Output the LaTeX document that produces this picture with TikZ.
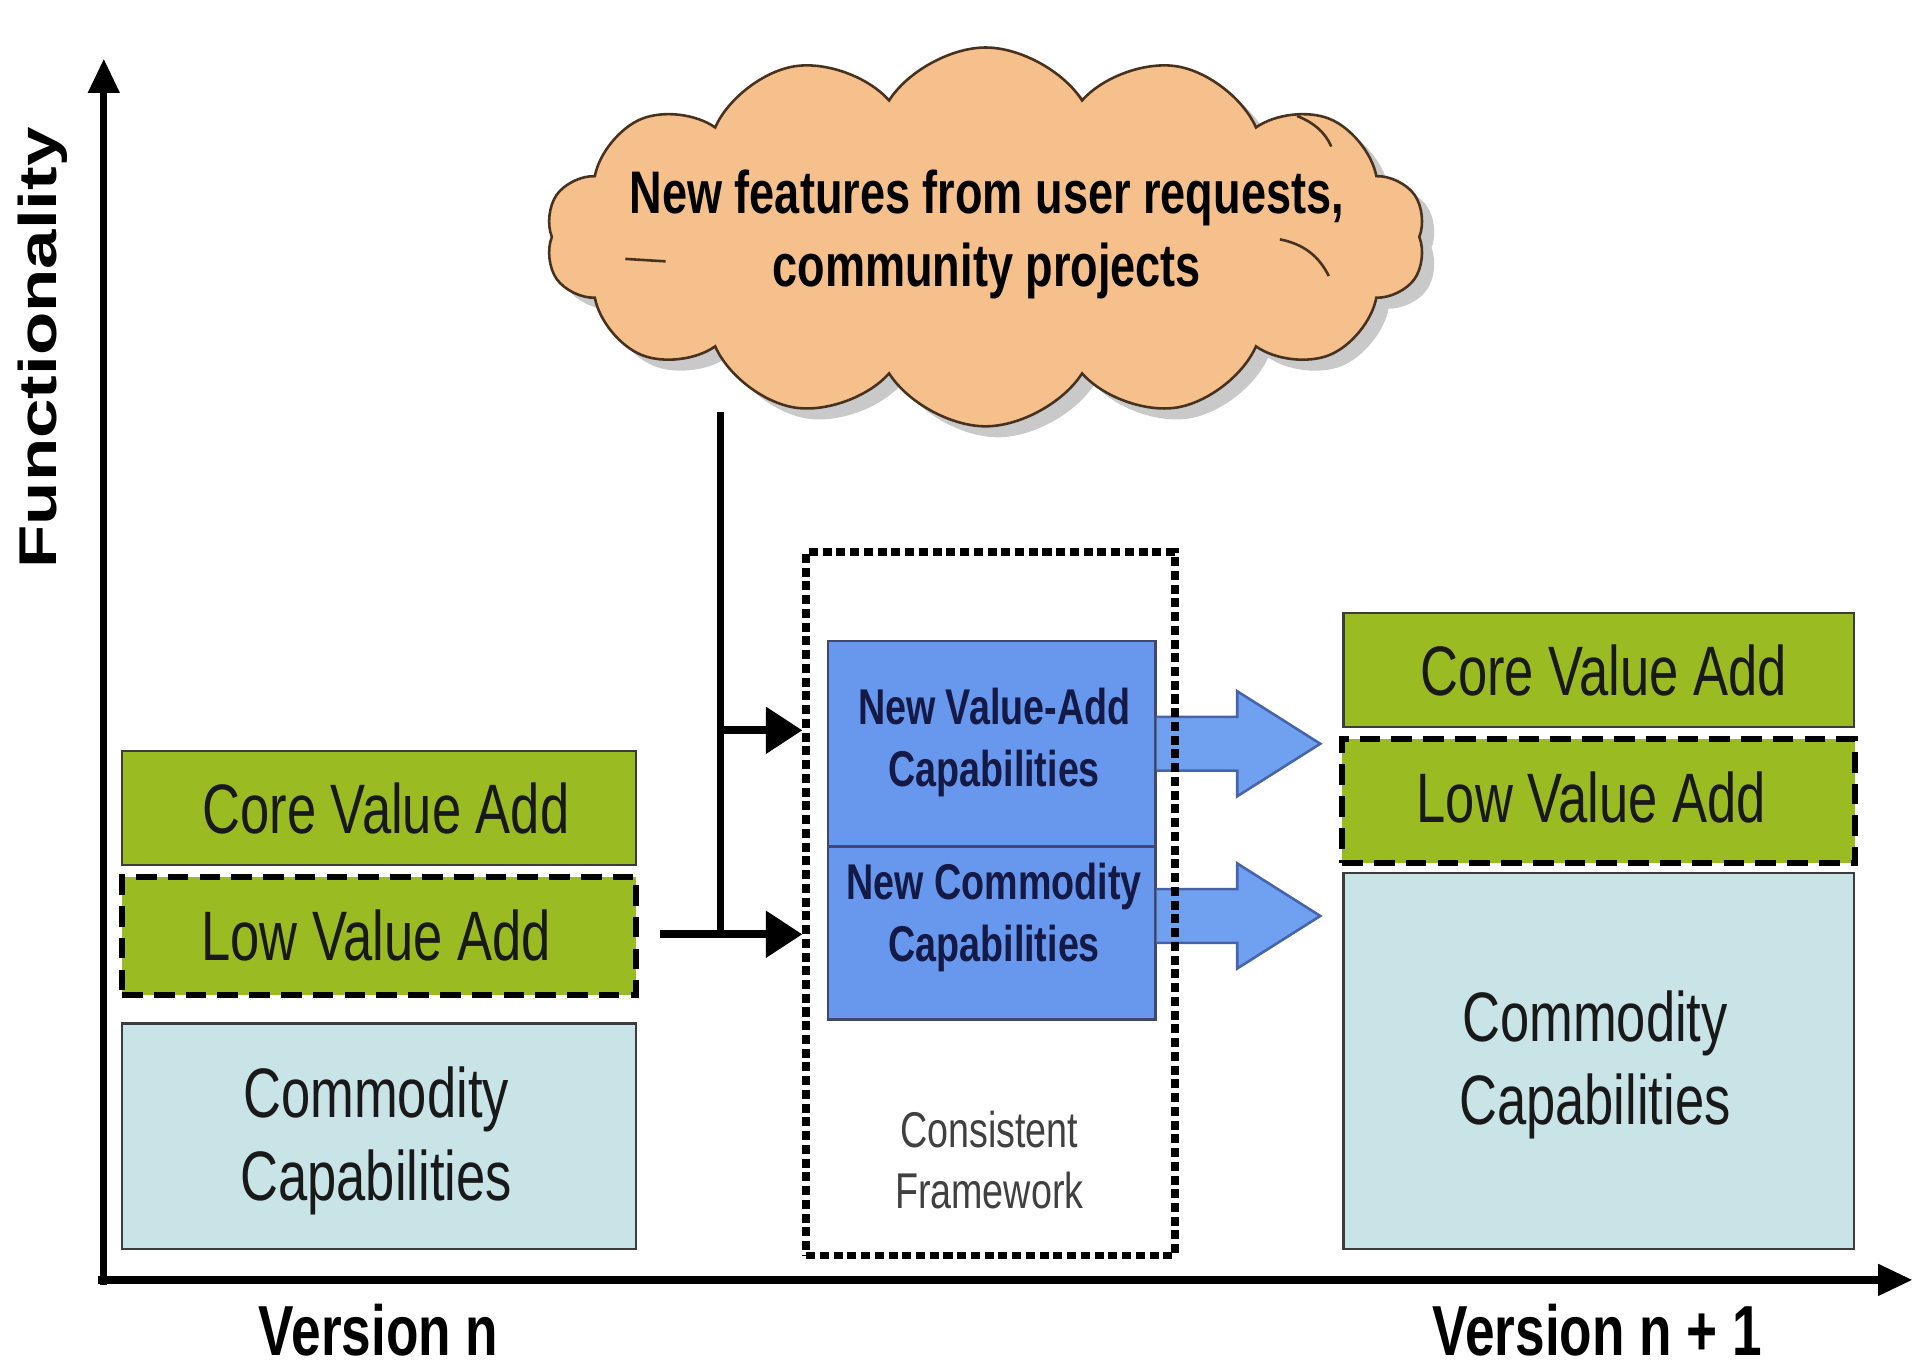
\documentclass[tikz,border=0pt]{standalone}
\usepackage{fontspec}
\setmainfont{Liberation Sans}[FakeStretch=0.75]
\newfontfamily\widefont{Liberation Sans}
\usepackage{graphicx}
\usetikzlibrary{shapes.symbols,shadows,fit,calc,arrows.meta}

\definecolor{valgreen}{RGB}{155,187,35}
\definecolor{commblue}{RGB}{200,228,230}
\definecolor{newblue}{RGB}{104,152,238}
\definecolor{arrowblue}{RGB}{112,160,240}
\definecolor{arrowedge}{RGB}{70,100,170}
\definecolor{cloudfill}{RGB}{245,192,140}
\definecolor{cloudedge}{RGB}{70,50,30}
\definecolor{textnavy}{RGB}{20,25,70}
\definecolor{boxedge}{RGB}{60,60,60}

\tikzset{
  layer/.style={inner sep=0pt, draw=boxedge, line width=0.5pt},
  layertext/.style={inner sep=0pt, font=\fontsize{16.3}{19.3}\selectfont,
    align=center, text=black!90},
  greenbox/.style={layer, fill=valgreen},
  lowbox/.style={layer, fill=valgreen, draw=black, line width=1.4pt,
    dash pattern=on 4.8pt off 2.6pt},
  commbox/.style={layer, fill=commblue},
  newbox/.style={inner sep=0pt, fill=newblue, draw=textnavy!80, line width=0.6pt},
  newtext/.style={font=\fontsize{11.7}{14.5}\selectfont\bfseries, text=textnavy, align=center},
  framebox/.style={inner sep=0pt, draw=black, line width=1.7pt,
    dash pattern=on 2.1pt off 1.1pt},
  axis/.style={line width=1.7pt, -{Triangle[length=8pt,width=7pt]}},
  feed/.style={line width=1.9pt, -{Triangle[length=8.5pt,width=10.5pt]}},
  trunk/.style={line width=1.6pt},
  blockfill/.style={fill=arrowblue},
  blockline/.style={draw=arrowedge, line width=0.6pt, line join=miter},
  axislabel/.style={inner sep=0pt, font=\fontsize{16.5}{19}\selectfont\bfseries},
}

\begin{document}
\begin{tikzpicture}[x=0.01cm, y=-0.01cm]
\useasboundingbox (0,0) rectangle (1568,1122);

% axes
\coordinate (origin) at (85,1048);
\coordinate (ytop) at (85,48);
\coordinate (xend) at (1566,1048);
\draw[axis] ($(origin)+(0,4)$) -- (ytop);
\draw[axis] ($(origin)+(-5,0)$) -- (xend);

\node[rotate=90, inner sep=0pt] (ylab) at (35,285)
  {\scalebox{1}[0.75]{\widefont\fontsize{16.5}{19}\selectfont\bfseries Functionality}};
\node[axislabel, anchor=base] (vn) at (310,1110) {Version n};
\node[axislabel, anchor=base] (vn1) at (1308,1110) {Version n + 1};

% version n
\node[greenbox, fit={(100,615) (521,708)}] (lcore) {};
\node[lowbox, fit={(100,718) (521,815)}] (llow) {};
\node[commbox, fit={(100,838) (521,1023)}] (lcomm) {};
\node[layertext] (lcoretxt) at (316,662) {Core Value Add};
\node[layertext] (llowtxt) at (308,766) {Low Value Add};
\node[layertext] (lcommtxt) at (308,934) {Commodity\\Capabilities};

% version n + 1
\node[greenbox, fit={(1100,502) (1518,595)}] (rcore) {};
\node[lowbox, fit={(1099,605) (1519,707)}] (rlow) {};
\node[commbox, fit={(1100,715) (1518,1023)}] (rcomm) {};
\node[layertext] (rcoretxt) at (1313,549) {Core Value Add};
\node[layertext] (rlowtxt) at (1303,653) {Low Value Add};
\node[layertext] (rcommtxt) at (1306,872) {Commodity\\Capabilities};

% cloud of incoming requests
\node[cloud, cloud puffs=14, cloud puff arc=115, aspect=2.3,
      draw=cloudedge, line width=0.6pt, fill=cloudfill,
      minimum width=7.2cm, minimum height=3.1cm,
      drop shadow={shadow xshift=0.1cm, shadow yshift=-0.09cm, fill=black!30, opacity=0.7}]
      (cloud) at (807,194) {};
\node[font=\fontsize{14}{17}\selectfont\bfseries, align=center] (cloudtxt) at (808,192)
  {New features from user requests,\\community projects};
\draw[cloudedge, line width=0.6pt] (512,212) -- (545,214);
\draw[cloudedge, line width=0.6pt] (1048,196) .. controls (1068,200) and (1080,210) .. (1088,226);
\draw[cloudedge, line width=0.6pt] (1062,95) .. controls (1075,100) and (1085,108) .. (1090,120);

% new capabilities inside the framework
\node[newbox, fit={(678,525) (946,693)}] (nva) {};
\node[newbox, fit={(678,693) (946,835)}] (ncom) {};
\node[newtext] (nvatxt) at (814,608) {New Value-Add\\Capabilities};
\node[newtext] (ncomtxt) at (814,751) {New Commodity\\Capabilities};

% block arrows towards version n + 1
\begin{scope}[shift={(nva.east)}]
  \fill[blockfill] (0,-22) -- (66,-22) -- (66,-43) -- (134,0) -- (66,43) -- (66,22) -- (0,22) -- cycle;
  \draw[blockline] (0,-22) -- (66,-22) -- (66,-43) -- (134,0) -- (66,43) -- (66,22) -- (0,22);
\end{scope}
\begin{scope}[shift={($(ncom.east)+(0,-14)$)}]
  \fill[blockfill] (0,-22) -- (66,-22) -- (66,-43) -- (134,0) -- (66,43) -- (66,22) -- (0,22) -- cycle;
  \draw[blockline] (0,-22) -- (66,-22) -- (66,-43) -- (134,0) -- (66,43) -- (66,22) -- (0,22);
\end{scope}

% consistent framework
\node[framebox, fit={(660,452) (962,1028)}] (cf) {};
\node[font=\fontsize{11.7}{14.2}\selectfont, text=black!75, align=center] (cftxt) at (810,950)
  {Consistent\\Framework};

% feeds into the framework
\coordinate (trunktop) at (590,337);
\coordinate (branch) at (590,598);
\coordinate (lowsrc) at (540,765);
\coordinate (join) at (590,765);
\draw[trunk] (trunktop) -- ($(join)+(0,2)$);
\draw[feed] (branch) -- (cf.west |- branch);
\draw[feed] (lowsrc) -- (cf.west |- lowsrc);
\end{tikzpicture}
\end{document}
